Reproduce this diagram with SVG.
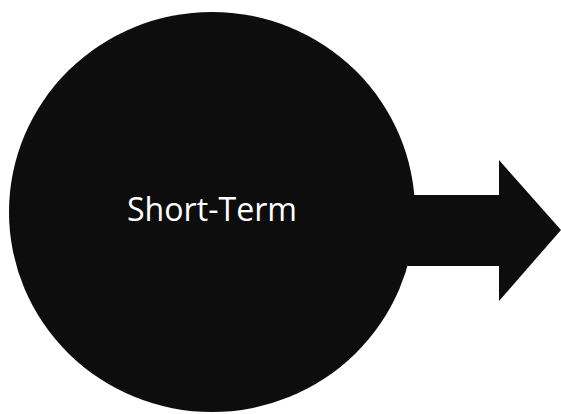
<svg xmlns="http://www.w3.org/2000/svg" width="561" height="414" viewBox="0 0 561 414">
<style>
.shape{fill:#0d0d0d;}
.label{fill:#ffffff;font-family:"Open Sans","Noto Sans",sans-serif;font-size:32px;}
</style>
<rect width="561" height="414" fill="#ffffff"/>
<g id="connectors">
<path class="shape" d="M380,195 L499,195 L499,160 L561,230 L499,301 L499,266 L380,266 Z"/>
</g>
<g id="node-short-term">
<ellipse class="shape" cx="212" cy="212" rx="203" ry="200"/>
<text class="label" x="212" y="221" text-anchor="middle" textLength="170" lengthAdjust="spacingAndGlyphs">Short-Term</text>
</g>
</svg>
